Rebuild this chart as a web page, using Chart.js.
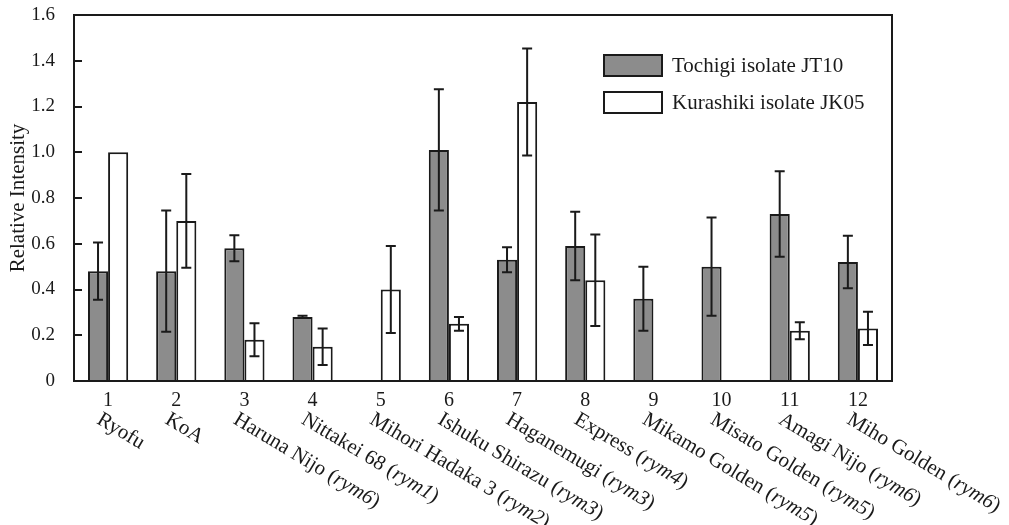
<!DOCTYPE html>
<html lang="en">
<head>
    <meta charset="UTF-8">
    <title>Relative Intensity</title>
    <script src="https://cdn.jsdelivr.net/npm/chart.js"></script>
    <style>
        body { margin: 0; background: #fff; }
        #wrap { width: 1009px; height: 525px; }
    </style>
</head>
<body>
    <div id="wrap"><canvas id="intensityChart" width="1009" height="525"></canvas></div>

    <script>
        const cultivarNumbers = ['1', '2', '3', '4', '5', '6', '7', '8', '9', '10', '11', '12'];
        const cultivarNames = ['Ryofu', 'KoA', 'Haruna Nijo', 'Nittakei 68', 'Mihori Hadaka 3', 'Ishuku Shirazu',
            'Haganemugi', 'Express', 'Mikamo Golden', 'Misato Golden', 'Amagi Nijo', 'Miho Golden'];
        const resistanceGenes = ['', '', 'rym6', 'rym1', 'rym2', 'rym3', 'rym3', 'rym4', 'rym5', 'rym5', 'rym6', 'rym6'];

        const tochigiValues = [0.48, 0.48, 0.58, 0.28, 0, 1.01, 0.53, 0.59, 0.36, 0.50, 0.73, 0.52];
        const tochigiErrors = [0.125, 0.265, 0.057, 0.005, 0, 0.265, 0.055, 0.15, 0.14, 0.215, 0.187, 0.115];
        const kurashikiValues = [1.0, 0.70, 0.18, 0.15, 0.40, 0.25, 1.22, 0.44, 0, 0, 0.22, 0.23];
        const kurashikiErrors = [0, 0.205, 0.072, 0.08, 0.19, 0.03, 0.234, 0.2, 0, 0, 0.037, 0.073];

        const yTickValues = [0, 0.2, 0.4, 0.6, 0.8, 1.0, 1.2, 1.4, 1.6];

        const serif = "'Liberation Serif', 'DejaVu Serif', serif";
        const ink = '#1a1a1a';

        // error bars drawn on top of each bar
        const errorBars = {
            id: 'errorBars',
            afterDatasetsDraw(chart) {
                const ctx = chart.ctx;
                const y = chart.scales.y;
                ctx.save();
                ctx.strokeStyle = ink;
                ctx.lineWidth = 2;
                chart.data.datasets.forEach((ds, i) => {
                    const meta = chart.getDatasetMeta(i);
                    meta.data.forEach((bar, j) => {
                        const err = ds.errors[j];
                        if (!err) return;
                        const v = ds.data[j];
                        const top = y.getPixelForValue(v + err);
                        const bottom = y.getPixelForValue(v - err);
                        ctx.beginPath();
                        ctx.moveTo(bar.x, top);
                        ctx.lineTo(bar.x, bottom);
                        ctx.moveTo(bar.x - 5, top);
                        ctx.lineTo(bar.x + 5, top);
                        ctx.moveTo(bar.x - 5, bottom);
                        ctx.lineTo(bar.x + 5, bottom);
                        ctx.stroke();
                    });
                });
                ctx.restore();
            }
        };

        // box round the plot, inner ticks, slanted names and the legend
        const decorations = {
            id: 'decorations',
            afterDraw(chart) {
                const ctx = chart.ctx;
                const area = chart.chartArea;
                const x = chart.scales.x;
                const y = chart.scales.y;
                ctx.save();
                ctx.strokeStyle = ink;
                ctx.lineWidth = 2;
                ctx.strokeRect(area.left, area.top, area.right - area.left, area.bottom - area.top);

                ctx.beginPath();
                y.ticks.forEach(t => {
                    const py = Math.round(y.getPixelForValue(t.value));
                    ctx.moveTo(area.left, py);
                    ctx.lineTo(area.left + 8, py);
                });
                ctx.stroke();

                // cultivar names, rotated clockwise
                ctx.fillStyle = ink;
                ctx.textBaseline = 'top';
                ctx.textAlign = 'left';
                const roman = '21px ' + serif;
                const italic = 'italic 21px ' + serif;
                cultivarNames.forEach((name, i) => {
                    const px = x.getPixelForValue(i);
                    ctx.save();
                    ctx.translate(px - 4, 409);
                    ctx.rotate(31 * Math.PI / 180);
                    ctx.font = roman;
                    let text = name;
                    let cx = 0;
                    if (resistanceGenes[i]) text += ' (';
                    ctx.fillText(text, cx, 0);
                    cx += ctx.measureText(text).width;
                    if (resistanceGenes[i]) {
                        ctx.font = italic;
                        ctx.fillText(resistanceGenes[i], cx, 0);
                        cx += ctx.measureText(resistanceGenes[i]).width;
                        ctx.font = roman;
                        ctx.fillText(')', cx, 0);
                    }
                    ctx.restore();
                });

                // legend inside plot
                ctx.font = '21px ' + serif;
                ctx.textBaseline = 'middle';
                chart.data.datasets.forEach((ds, i) => {
                    const bx = 604;
                    const by = 55 + i * 37;
                    ctx.fillStyle = ds.backgroundColor;
                    ctx.fillRect(bx, by, 58, 21);
                    ctx.strokeRect(bx, by, 58, 21);
                    ctx.fillStyle = ink;
                    ctx.fillText(ds.label, bx + 68, by + 11);
                });
                ctx.restore();
            }
        };

        const ctx = document.getElementById('intensityChart').getContext('2d');
        new Chart(ctx, {
            type: 'bar',
            data: {
                labels: cultivarNumbers,
                datasets: [{
                    label: 'Tochigi isolate JT10',
                    data: tochigiValues,
                    errors: tochigiErrors,
                    backgroundColor: '#8c8c8c',
                    borderColor: ink,
                    borderWidth: 2
                }, {
                    label: 'Kurashiki isolate JK05',
                    data: kurashikiValues,
                    errors: kurashikiErrors,
                    backgroundColor: '#ffffff',
                    borderColor: ink,
                    borderWidth: 2
                }]
            },
            options: {
                responsive: false,
                animation: false,
                categoryPercentage: 0.59,
                barPercentage: 1.0,
                layout: { padding: { top: 15, right: 117, left: 0, bottom: 0 } },
                plugins: {
                    legend: { display: false },
                    tooltip: { enabled: false }
                },
                scales: {
                    x: {
                        grid: { display: false },
                        border: { display: false },
                        ticks: {
                            color: ink,
                            font: { family: serif, size: 20 },
                            padding: 0,
                            maxRotation: 0,
                            autoSkip: false
                        },
                        afterFit(scale) { scale.height = 144; }
                    },
                    y: {
                        min: 0,
                        max: 1.6,
                        grid: { display: false },
                        border: { display: false },
                        afterBuildTicks(scale) {
                            scale.ticks = yTickValues.map(v => ({ value: v }));
                        },
                        ticks: {
                            color: ink,
                            font: { family: serif, size: 19 },
                            padding: 11,
                            callback: v => v === 0 ? '0' : v.toFixed(1)
                        },
                        title: {
                            display: true,
                            text: 'Relative Intensity',
                            color: ink,
                            font: { family: serif, size: 21 },
                            padding: { top: 6, bottom: 0 }
                        },
                        afterFit(scale) {
                            scale.width = 74;
                            scale.paddingTop = 0;
                            scale.paddingBottom = 0;
                        }
                    }
                }
            },
            plugins: [errorBars, decorations]
        });
    </script>
</body>
</html>
